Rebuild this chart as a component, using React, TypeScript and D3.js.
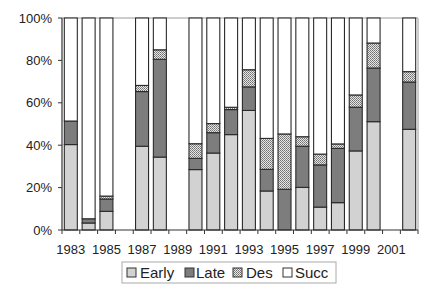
import React from "react";
import * as d3 from "d3";

// percentages; null = no data that year
const years: number[] = [1983, 1984, 1985, 1986, 1987, 1988, 1989, 1990, 1991, 1992, 1993, 1994, 1995, 1996, 1997, 1998, 1999, 2000, 2001, 2002];
const early: (number | null)[] = [40.3, 3.3, 8.8, null, 39.5, 34.4, null, 28.5, 36.3, 45, 56.4, 18.4, 0, 20.1, 10.8, 12.9, 37.3, 51.1, null, 47.5];
const late: (number | null)[] = [11.1, 2, 5.8, null, 25.8, 46.1, null, 5.3, 9.6, 11.8, 11.1, 10.2, 19.2, 19.4, 19.9, 25.6, 20.6, 25.3, null, 22.3];
const des: (number | null)[] = [0, 0, 1.4, null, 2.9, 4.5, null, 6.9, 4.3, 1.1, 8.1, 14.6, 26.1, 4.5, 5.1, 2.1, 5.8, 11.8, null, 4.9];
const succ: (number | null)[] = [48.6, 94.7, 84, null, 31.8, 15, null, 59.3, 49.8, 42.1, 24.4, 56.8, 54.7, 56, 64.2, 59.4, 36.3, 11.8, null, 25.3];

const seriesNames = ["Early", "Late", "Des", "Succ"];
const yTicks = [0, 20, 40, 60, 80, 100];
const xLabelYears = [1983, 1985, 1987, 1989, 1991, 1993, 1995, 1997, 1999, 2001];

const W = 432;
const H = 288;
const m = { left: 62, right: 14, top: 18, bottom: 58 };
const font = "Arial, 'Liberation Sans', sans-serif";

const fills: Record<string, string> = {
  Early: "#d2d2d2",
  Late: "#7d7d7d",
  Des: "url(#desPat)",
  Succ: "#ffffff",
};

export default function App() {
  const x = d3
    .scaleBand<number>()
    .domain(years)
    .range([m.left, W - m.right])
    .paddingInner(0.27)
    .paddingOuter(0.13);
  const step = x.step();
  const y = d3.scaleLinear().domain([0, 100]).range([H - m.bottom, m.top]);

  const rows = years
    .map((yr, i) => ({ year: yr, Early: early[i], Late: late[i], Des: des[i], Succ: succ[i] }))
    .filter((r) => r.Early !== null) as any[];
  const stacked = d3.stack<any>().keys(seriesNames)(rows);

  const x0 = m.left;
  const x1 = W - m.right;
  const yb = y(0);

  // legend layout
  const legendItems = [
    { name: "Early", sx: 127, tx: 140 },
    { name: "Late", sx: 185, tx: 196 },
    { name: "Des", sx: 233, tx: 246 },
    { name: "Succ", sx: 283, tx: 295 },
  ];

  return (
    <svg width={W} height={H} style={{ position: "absolute", left: 0, top: 0, background: "#fff" }}>
      <defs>
        <pattern id="desPat" width={2} height={2} patternUnits="userSpaceOnUse">
          <rect width={2} height={2} fill="#e6e6e6" />
          <rect width={1} height={1} fill="#707070" />
          <rect x={1} y={1} width={1} height={1} fill="#8a8a8a" />
        </pattern>
      </defs>

      {/* plot frame top / right */}
      <line x1={x0} x2={x1} y1={y(100)} y2={y(100)} stroke="#bdbdbd" strokeWidth={1.5} />
      <line x1={x1} x2={x1} y1={y(100)} y2={yb} stroke="#bdbdbd" strokeWidth={1.5} />

      {/* bars */}
      {stacked.map((s) => (
        <g key={s.key}>
          {s.map((d: any) =>
            d[1] - d[0] > 0 ? (
              <rect
                key={d.data.year}
                x={x(d.data.year)}
                y={y(d[1])}
                width={x.bandwidth()}
                height={y(d[0]) - y(d[1])}
                fill={fills[s.key]}
                stroke="#2a2a2a"
                strokeWidth={1.1}
              />
            ) : null
          )}
        </g>
      ))}

      {/* y axis */}
      <line x1={x0} x2={x0} y1={y(100)} y2={yb} stroke="#333" strokeWidth={1.2} />
      {yTicks.map((t) => (
        <g key={t}>
          <line x1={x0 - 4} x2={x0} y1={y(t)} y2={y(t)} stroke="#333" />
          <text x={x0 - 10} y={y(t)} dy="0.35em" textAnchor="end" fontFamily={font} fontSize={13} fill="#222">
            {t}%
          </text>
        </g>
      ))}

      {/* x axis */}
      <line x1={x0} x2={x1} y1={yb} y2={yb} stroke="#333" strokeWidth={1.2} />
      {years.map((yr, i) => (
        <line key={yr} x1={x0 + i * step} x2={x0 + i * step} y1={yb} y2={yb + 4} stroke="#333" />
      ))}
      <line x1={x1} x2={x1} y1={yb} y2={yb + 4} stroke="#333" />
      {xLabelYears.map((yr) => (
        <text
          key={yr}
          x={(x(yr) ?? 0) + x.bandwidth() / 2}
          y={yb + 19}
          dy="0.35em"
          textAnchor="middle"
          fontFamily={font}
          fontSize={13}
          fill="#222"
        >
          {yr}
        </text>
      ))}

      {/* legend */}
      <rect x={122} y={262} width={214} height={21} fill="#fff" stroke="#aaa" strokeWidth={1} />
      {legendItems.map((it) => (
        <g key={it.name}>
          <rect x={it.sx} y={268} width={9} height={9} fill={fills[it.name]} stroke="#333" strokeWidth={1} />
          <text x={it.tx} y={273} dy="0.35em" fontFamily={font} fontSize={15} fill="#222">
            {it.name}
          </text>
        </g>
      ))}
    </svg>
  );
}
